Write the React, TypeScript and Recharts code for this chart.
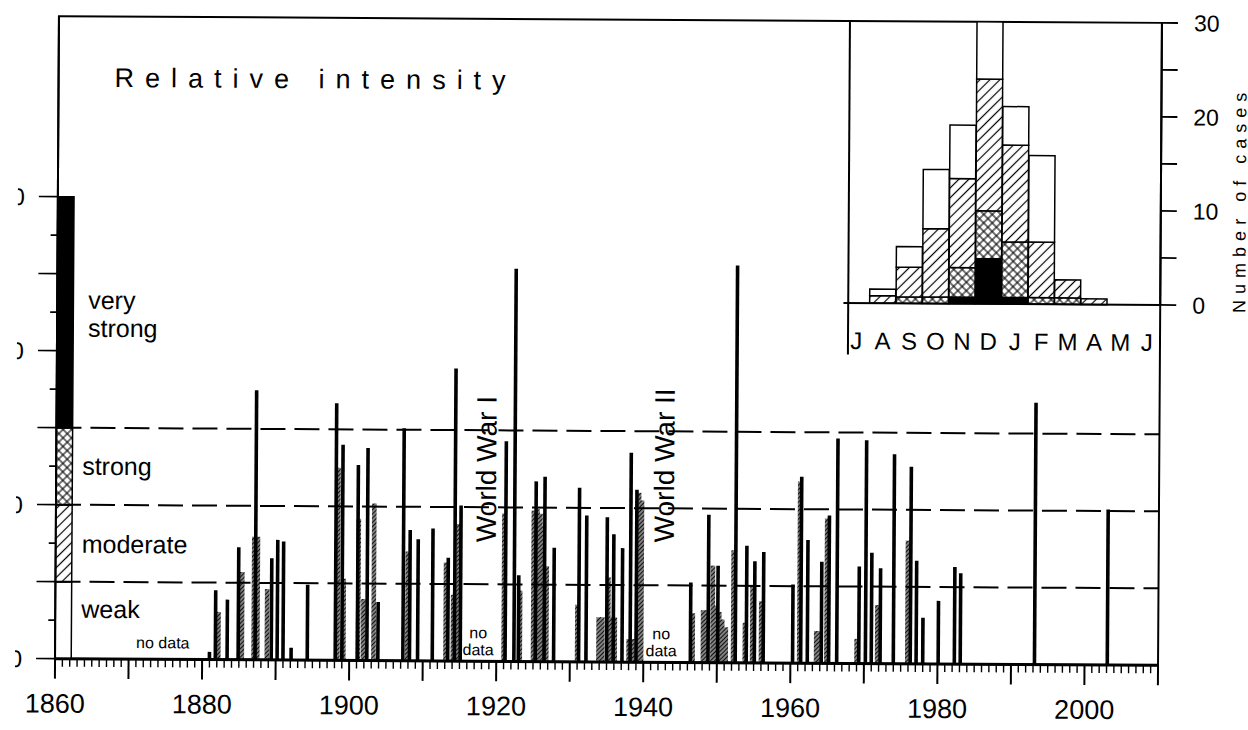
import React from 'react';
import { ComposedChart, BarChart, Bar, XAxis, YAxis, ReferenceLine, ReferenceArea } from 'recharts';

// strongest event of each outbreak, drawn as a solid black bar
const peakYears = [
  1881.0, 1881.8, 1883.4, 1884.9, 1887.2, 1889.4, 1890.2, 1891.0, 1892.1, 1894.3,
  1898.1, 1899.0, 1901.1, 1902.4, 1903.9, 1907.3, 1908.2, 1909.3, 1911.3, 1913.4, 1914.3, 1915.1,
  1921.2, 1922.4, 1923.0, 1925.3, 1926.5, 1927.8, 1931.2, 1932.2, 1935.0, 1935.9, 1937.1, 1938.2, 1939.0,
  1946.4, 1948.8, 1950.1, 1952.5, 1954.0, 1955.1, 1956.3, 1960.3, 1961.4, 1962.3, 1964.2, 1965.2, 1966.3,
  1969.3, 1970.2, 1971.0, 1972.2, 1974.0, 1976.3, 1977.1, 1978.0, 1980.1, 1982.3, 1983.1, 1993.2, 2003.1,
];
const peakValues = [
  0.05, 0.45, 0.39, 0.73, 1.75, 0.66, 0.78, 0.77, 0.08, 0.49,
  1.67, 1.40, 1.27, 1.38, 0.38, 1.51, 0.85, 0.79, 0.86, 0.67, 1.90, 1.01,
  1.43, 2.55, 0.56, 1.17, 1.20, 0.74, 1.13, 0.95, 0.94, 0.83, 0.74, 1.36, 1.12,
  0.52, 0.96, 0.63, 2.58, 0.76, 0.66, 0.72, 0.51, 1.21, 0.80, 0.66, 0.96, 1.46,
  0.63, 1.45, 0.72, 0.62, 1.36, 1.28, 0.67, 0.30, 0.41, 0.63, 0.59, 1.70, 1.01,
];

// the other events of the same outbreaks, drawn shaded
const shadeYears = [
  1882.2, 1885.4, 1887.0, 1887.5, 1888.8, 1898.4, 1899.2, 1901.2, 1901.9, 1903.3,
  1907.9, 1913.1, 1914.1, 1914.8, 1921.0, 1923.2, 1925.0, 1925.5, 1925.9, 1926.3,
  1926.8, 1931.0, 1933.9, 1934.4, 1935.2, 1935.6, 1936.1, 1938.0, 1938.5, 1939.3,
  1939.7, 1946.7, 1948.1, 1948.5, 1949.4, 1949.8, 1950.3, 1950.7, 1951.2, 1952.2,
  1953.8, 1954.8, 1956.0, 1961.2, 1963.5, 1963.9, 1964.9, 1969.0, 1971.8, 1975.9,
];
const shadeValues = [
  0.31, 0.57, 0.80, 0.80, 0.46, 1.25, 0.53, 0.92, 0.40, 1.02,
  0.71, 0.64, 0.43, 0.89, 0.96, 0.46, 0.98, 0.99, 0.96, 0.88,
  0.62, 0.37, 0.29, 0.29, 0.55, 0.29, 0.29, 0.15, 0.15, 1.10,
  1.05, 0.32, 0.34, 0.34, 0.63, 0.37, 0.33, 0.28, 0.23, 0.73,
  0.26, 0.50, 0.40, 1.18, 0.21, 0.21, 0.94, 0.16, 0.38, 0.80,
];

const classNames = ['weak', 'moderate', 'strong', 'very strong'];
const classLimits = [0, 0.5, 1.0, 1.5, 3.0];
const classFills = ['#fff', 'url(#hatch)', 'url(#cross)', '#000'];

// monthly counts, July to June
const months = ['J', 'A', 'S', 'O', 'N', 'D', 'J', 'F', 'M', 'A', 'M', 'J'];
const veryStrongCases = [0, 0, 0, 0, 0.7, 4.8, 0.7, 0, 0, 0, 0, 0];
const strongCases = [0, 0, 0.7, 0.7, 3.15, 5.1, 5.9, 0.7, 0.7, 0, 0, 0];
const moderateCases = [0, 0.8, 3.15, 7.26, 9.45, 14.0, 10.3, 5.9, 1.9, 0.6, 0, 0];
const weakCases = [0, 0.7, 2.2, 6.3, 5.7, 6.1, 4.1, 9.2, 0, 0, 0, 0];

const yearTicks = Array.from({ length: 151 }, (_, i) => 1860 + i);
const intensityTicks = [0, 0.25, 0.5, 0.75, 1, 1.25, 1.5, 1.75, 2, 2.25, 2.5, 2.75, 3];
const caseTicks = [0, 5, 10, 15, 20, 25, 30];

const FONT = '"Liberation Sans", Arial, Helvetica, sans-serif';
const W = 1248;
const H = 730;
const LEFT = 57;
const TOP = 19.5;
const BASE = 662;
const RIGHT = 1160;
const yMax = (BASE - TOP) / 154;

const INSET_LEFT = 843;
const INSET_W = 405;
const INSET_H = 365;
const INSET_BASE = 301.6;
const INSET_AXIS = INSET_W - (W - RIGHT);

// shaded events first so the black peaks sit on top of them
const events = [
  ...shadeYears.map((year, i) => ({ year, value: shadeValues[i], kind: 'shade' })),
  ...peakYears.map((year, i) => ({ year, value: peakValues[i], kind: 'peak' })),
];

const seasons = months.map((month, i) => ({
  month,
  veryStrong: veryStrongCases[i],
  strong: strongCases[i],
  moderate: moderateCases[i],
  weak: weakCases[i],
}));

// bars on a numeric year axis: keep the centre Recharts computes, set our own width
const EventBar = (props: any) => {
  const { x, y, width, height, payload } = props;
  if (!(height > 0)) return null;
  const peak = payload.kind === 'peak';
  const w = peak ? 3.6 : 4.6;
  const cx = x + width / 2;
  return <rect x={cx - w / 2} y={y} width={w} height={height} fill={peak ? '#000' : 'url(#shade)'} />;
};

const YearTick = (props: any) => {
  const { x, payload } = props;
  const yr = payload.value;
  const major = yr % 10 === 0;
  return (
    <g>
      <line x1={x} x2={x} y1={BASE} y2={BASE + (major ? 20 : 8)} stroke="#000" strokeWidth={major ? 2 : 1.4} />
      {yr % 20 === 0 && (
        <text x={x} y={BASE + 54} textAnchor="middle" fontSize={27} fontFamily={FONT} fill="#000">
          {yr}
        </text>
      )}
    </g>
  );
};

const IntensityTick = (props: any) => {
  const { y, payload } = props;
  const v = payload.value;
  const long = Math.abs(v * 2 - Math.round(v * 2)) < 1e-6;
  return (
    <g>
      <line x1={LEFT - (long ? 19 : 7)} x2={LEFT} y1={y} y2={y} stroke="#000" strokeWidth={1.6} />
      {Number.isInteger(v) && (
        <text x={24} y={y} dy="0.36em" textAnchor="end" fontSize={24} fontFamily={FONT} clipPath="url(#ylab)">
          {v === 0 ? '0' : v.toFixed(1)}
        </text>
      )}
    </g>
  );
};

const MonthTick = (props: any) => {
  const { x, payload } = props;
  return (
    <text x={x} y={INSET_BASE + 46} textAnchor="middle" fontSize={24} fontFamily={FONT} fill="#000">
      {payload.value}
    </text>
  );
};

const CaseTick = (props: any) => {
  const { y, payload } = props;
  const v = payload.value;
  return (
    <g>
      <line x1={INSET_AXIS} x2={INSET_AXIS + 16} y1={y} y2={y} stroke="#000" strokeWidth={1.8} />
      {v % 10 === 0 && (
        <text x={INSET_AXIS + 32} y={y} dy="0.36em" fontSize={23} fontFamily={FONT} fill="#000">
          {v}
        </text>
      )}
    </g>
  );
};

const App: React.FC = () => {
  const label = { fontFamily: FONT, fill: '#000' };
  return (
    <div
      style={{
        position: 'absolute',
        left: 0,
        top: 0,
        width: W,
        height: H,
        background: '#fff',
        transform: 'rotate(0.35deg)',
        transformOrigin: '608px 340px',
      }}
    >
      <svg width={0} height={0} style={{ position: 'absolute' }}>
        <defs>
          <pattern id="hatch" width={7} height={7} patternUnits="userSpaceOnUse" patternTransform="rotate(45)">
            <rect width={7} height={7} fill="#fff" />
            <line x1={3.5} y1={0} x2={3.5} y2={7} stroke="#000" strokeWidth={1.2} />
          </pattern>
          <pattern id="cross" width={6} height={6} patternUnits="userSpaceOnUse" patternTransform="rotate(45)">
            <rect width={6} height={6} fill="#fff" />
            <line x1={3} y1={0} x2={3} y2={6} stroke="#000" strokeWidth={1.1} />
            <line x1={0} y1={3} x2={6} y2={3} stroke="#000" strokeWidth={1.1} />
          </pattern>
          <pattern id="shade" width={3} height={3} patternUnits="userSpaceOnUse" patternTransform="rotate(45)">
            <rect width={3} height={3} fill="#8c8c8c" />
            <line x1={1.5} y1={0} x2={1.5} y2={3} stroke="#111" strokeWidth={1.2} />
          </pattern>
          <clipPath id="ylab">
            <rect x={17} y={0} width={40} height={H} />
          </clipPath>
        </defs>
      </svg>

      <div style={{ position: 'absolute', left: 0, top: 0 }}>
        <ComposedChart width={W} height={H} data={events} margin={{ top: TOP, right: W - RIGHT, bottom: 0, left: 0 }}>
          <XAxis
            dataKey="year"
            type="number"
            domain={[1860, 2010]}
            ticks={yearTicks}
            interval={0}
            height={H - BASE}
            tickLine={false}
            axisLine={{ stroke: '#000', strokeWidth: 3 }}
            tick={<YearTick />}
          />
          <YAxis
            type="number"
            domain={[0, yMax]}
            ticks={intensityTicks}
            interval={0}
            width={LEFT}
            tickLine={false}
            axisLine={{ stroke: '#000', strokeWidth: 2 }}
            tick={<IntensityTick />}
          />
          <ReferenceArea x1={1860} x2={2010} y1={0} y2={yMax} fill="none" stroke="#000" strokeWidth={2} />
          {classNames.map((name, i) => (
            <ReferenceArea
              key={name}
              x1={1860}
              x2={1862.2}
              y1={classLimits[i]}
              y2={classLimits[i + 1]}
              fill={classFills[i]}
              fillOpacity={1}
              stroke="#000"
              strokeWidth={1.5}
            />
          ))}
          {classLimits.slice(1, 4).map((v) => (
            <ReferenceLine key={v} y={v} stroke="#000" strokeWidth={2} strokeDasharray="25 9" />
          ))}
          <Bar dataKey="value" barSize={4} shape={<EventBar />} isAnimationActive={false} />
        </ComposedChart>
      </div>

      <div style={{ position: 'absolute', left: INSET_LEFT, top: 0 }}>
        <BarChart
          width={INSET_W}
          height={INSET_H}
          data={seasons}
          margin={{ top: TOP, right: 0, bottom: 0, left: 0 }}
          barCategoryGap={0}
          barGap={0}
        >
          <XAxis
            dataKey="month"
            height={INSET_H - INSET_BASE}
            interval={0}
            tickLine={false}
            axisLine={{ stroke: '#000', strokeWidth: 2 }}
            tick={<MonthTick />}
          />
          <YAxis
            orientation="right"
            type="number"
            domain={[0, 30]}
            ticks={caseTicks}
            interval={0}
            width={W - RIGHT}
            tickLine={false}
            axisLine={{ stroke: '#000', strokeWidth: 2 }}
            tick={<CaseTick />}
          />
          <Bar dataKey="veryStrong" stackId="m" fill="#000" stroke="#000" strokeWidth={1.5} isAnimationActive={false} />
          <Bar dataKey="strong" stackId="m" fill="url(#cross)" stroke="#000" strokeWidth={1.5} isAnimationActive={false} />
          <Bar dataKey="moderate" stackId="m" fill="url(#hatch)" stroke="#000" strokeWidth={1.5} isAnimationActive={false} />
          <Bar dataKey="weak" stackId="m" fill="#fff" stroke="#000" strokeWidth={1.5} isAnimationActive={false} />
        </BarChart>
      </div>
      <div style={{ position: 'absolute', left: 847, top: TOP, width: 2, height: 353 - TOP, background: '#000' }} />

      <svg width={W} height={H} style={{ position: 'absolute', left: 0, top: 0, pointerEvents: 'none' }}>
        <text x={113} y={90} fontSize={27} letterSpacing={11} {...label}>Relative intensity</text>
        <text x={88} y={312} fontSize={25} {...label}>very</text>
        <text x={88} y={340} fontSize={25} {...label}>strong</text>
        <text x={83} y={478} fontSize={25} {...label}>strong</text>
        <text x={83} y={556} fontSize={25} {...label}>moderate</text>
        <text x={83} y={621} fontSize={25} {...label}>weak</text>
        <text x={138} y={651} fontSize={16} {...label}>no data</text>
        <text x={480} y={639} fontSize={16} textAnchor="middle" {...label}>no</text>
        <text x={480} y={656} fontSize={16} textAnchor="middle" {...label}>data</text>
        <text x={663} y={639} fontSize={16} textAnchor="middle" {...label}>no</text>
        <text x={663} y={656} fontSize={16} textAnchor="middle" {...label}>data</text>
        <text x={497} y={543} fontSize={28} transform="rotate(-90 497 543)" {...label}>World War I</text>
        <text x={675} y={542} fontSize={28} transform="rotate(-90 675 542)" {...label}>World War II</text>
        <text x={1245} y={309} fontSize={18} letterSpacing={6} transform="rotate(-90 1245 309)" {...label}>
          Number of cases
        </text>
      </svg>
    </div>
  );
};

export default App;
